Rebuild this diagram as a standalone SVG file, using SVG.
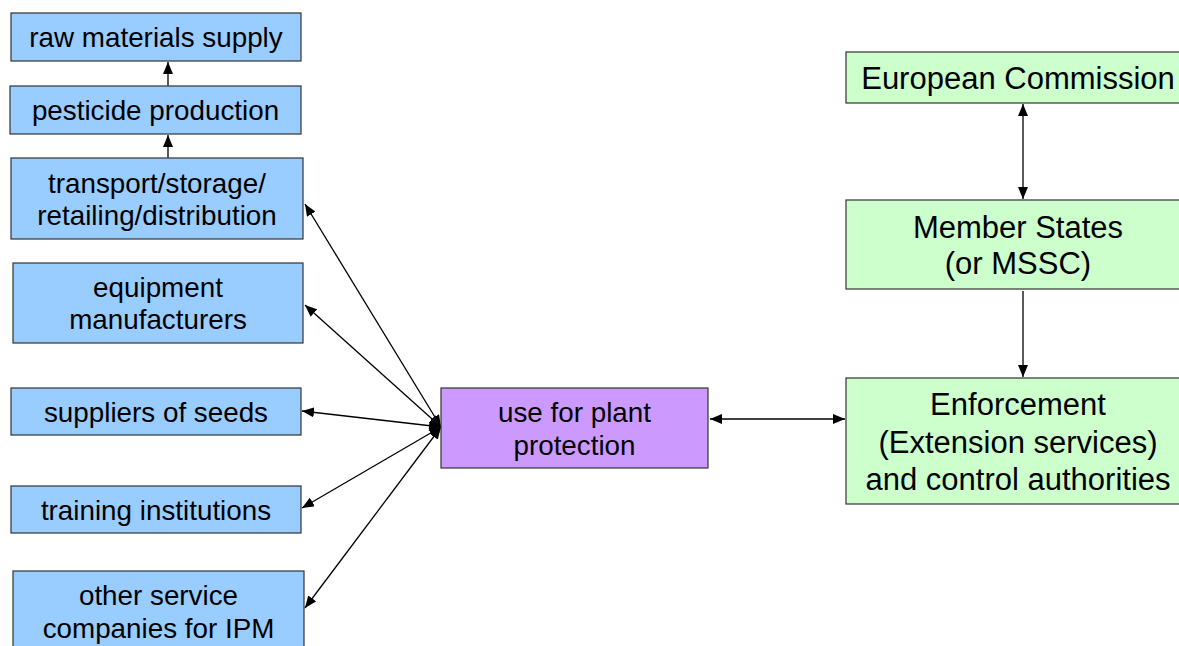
<svg xmlns="http://www.w3.org/2000/svg" width="1179" height="646" viewBox="0 0 1179 646">
  <defs>
    <style>
      .box { stroke: #333; stroke-width: 1.2; }
      .blue { fill: #99CCFF; }
      .purple { fill: #CC99FF; }
      .green { fill: #CCFFCC; }
      text { font-family: "Liberation Sans", Arial, sans-serif; fill: #000; text-anchor: middle; }
      .l { font-size: 27.8px; }
      .r { font-size: 31px; }
      .conn { stroke: #000; stroke-width: 1.3; fill: none; }
    </style>
    <marker id="ah" viewBox="0 0 12 10" refX="12" refY="5" markerWidth="12" markerHeight="10" markerUnits="userSpaceOnUse" orient="auto-start-reverse">
      <path d="M0,0 L12,5 L0,10 Z" fill="#000"/>
    </marker>
  </defs>

  <rect width="1179" height="646" fill="#fff"/>

  <!-- connectors -->
  <g id="connectors">
    <line class="conn" x1="168" y1="86" x2="168" y2="62" marker-end="url(#ah)"/>
    <line class="conn" x1="168" y1="158" x2="168" y2="135" marker-end="url(#ah)"/>
    <line class="conn" x1="441" y1="427" x2="305" y2="204" marker-start="url(#ah)" marker-end="url(#ah)"/>
    <line class="conn" x1="441" y1="427" x2="305" y2="305" marker-start="url(#ah)" marker-end="url(#ah)"/>
    <line class="conn" x1="441" y1="427" x2="302" y2="411" marker-start="url(#ah)" marker-end="url(#ah)"/>
    <line class="conn" x1="441" y1="427" x2="302" y2="508" marker-start="url(#ah)" marker-end="url(#ah)"/>
    <line class="conn" x1="441" y1="427" x2="305" y2="608" marker-start="url(#ah)" marker-end="url(#ah)"/>
    <line class="conn" x1="710" y1="419" x2="845" y2="419" marker-start="url(#ah)" marker-end="url(#ah)"/>
    <line class="conn" x1="1023" y1="104" x2="1023" y2="199" marker-start="url(#ah)" marker-end="url(#ah)"/>
    <line class="conn" x1="1023" y1="291" x2="1023" y2="377" marker-end="url(#ah)"/>
  </g>

  <!-- supply chain, left column -->
  <g id="raw-materials">
    <rect class="box blue" x="11" y="13" width="290" height="48"/>
    <text class="l" x="156" y="47">raw materials supply</text>
  </g>
  <g id="pesticide-production">
    <rect class="box blue" x="10" y="86" width="291" height="48"/>
    <text class="l" x="155.5" y="120">pesticide production</text>
  </g>
  <g id="transport">
    <rect class="box blue" x="11" y="158" width="292" height="81"/>
    <text class="l" x="157" y="193">transport/storage/</text>
    <text class="l" x="157" y="225">retailing/distribution</text>
  </g>
  <g id="equipment">
    <rect class="box blue" x="13" y="263" width="290" height="80"/>
    <text class="l" x="158" y="297">equipment</text>
    <text class="l" x="158" y="329">manufacturers</text>
  </g>
  <g id="seeds">
    <rect class="box blue" x="11" y="388" width="290" height="47"/>
    <text class="l" x="156" y="421.5">suppliers of seeds</text>
  </g>
  <g id="training">
    <rect class="box blue" x="11" y="486" width="290" height="47"/>
    <text class="l" x="156" y="520">training institutions</text>
  </g>
  <g id="other-services">
    <rect class="box blue" x="13" y="571" width="291" height="90"/>
    <text class="l" x="158.5" y="605">other service</text>
    <text class="l" x="158.5" y="638">companies for IPM</text>
  </g>

  <!-- central use -->
  <g id="plant-protection">
    <rect class="box purple" x="441" y="388" width="267" height="80"/>
    <text class="l" x="574.5" y="421.5">use for plant</text>
    <text class="l" x="574.5" y="455">protection</text>
  </g>

  <!-- regulatory column -->
  <g id="european-commission">
    <rect class="box green" x="846" y="52" width="340" height="51"/>
    <text class="r" x="1018" y="89">European Commission</text>
  </g>
  <g id="member-states">
    <rect class="box green" x="846" y="200" width="340" height="89"/>
    <text class="r" x="1018" y="238">Member States</text>
    <text class="r" x="1018" y="274">(or MSSC)</text>
  </g>
  <g id="enforcement">
    <rect class="box green" x="846" y="378" width="340" height="126"/>
    <text class="r" x="1018" y="415">Enforcement</text>
    <text class="r" x="1018" y="453">(Extension services)</text>
    <text class="r" x="1018" y="490">and control authorities</text>
  </g>
</svg>
